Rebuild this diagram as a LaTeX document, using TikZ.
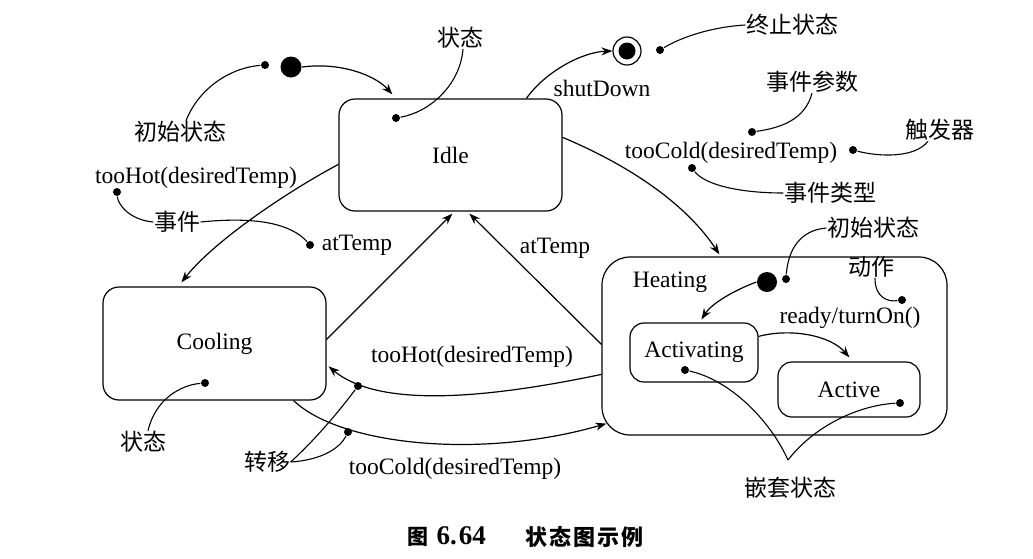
\documentclass[tikz,border=0pt]{standalone}
\usepackage{fontspec}
\setmainfont{Liberation Serif}
\newfontfamily\cjk{Noto Sans CJK SC}
\usetikzlibrary{arrows.meta}
\begin{document}
\begin{tikzpicture}[x=1pt,y=-1pt,line width=1.2pt,
  lbl/.style={font=\fontsize{23.5}{25}\selectfont, inner sep=0pt},
  zh/.style={font=\cjk\fontsize{23}{25}\selectfont, inner sep=0pt},
  dot/.style={circle, fill, inner sep=0pt, minimum size=8pt},
  bigdot/.style={circle, fill, inner sep=0pt, minimum size=21pt},
  statebox/.style={draw, rectangle, inner sep=0pt, font=\fontsize{23.5}{25}\selectfont},
  arr/.style={-{Stealth[length=11pt,width=8pt]}},
  note/.style={line width=1.1pt}]
\useasboundingbox (0,0) rectangle (1033,558);

% states
\node[statebox, rounded corners=16pt, minimum width=223pt, minimum height=112pt] (idle) at (450.5,155) {Idle};
\node[statebox, rounded corners=16pt, minimum width=223pt, minimum height=113pt] (cooling) at (214.5,343.5) {Cooling};
\node[statebox, rounded corners=28pt, minimum width=345pt, minimum height=178pt] (heating) at (774.5,346) {};
\node[lbl] (heatlbl) at (670,282) {Heating};
\node[statebox, rounded corners=14pt, minimum width=128pt, minimum height=59pt] (activating) at (694,352.5) {Activating};
\node[statebox, rounded corners=14pt, minimum width=142pt, minimum height=55pt] (active) at (849,389.5) {Active};

% initial / final states
\node[bigdot] (init1) at (291,67) {};
\node[bigdot, minimum size=20pt] (init2) at (767,282) {};
\node[circle, draw, inner sep=0pt, minimum size=28pt] (final) at (627,51) {};
\node[circle, fill, inner sep=0pt, minimum size=17pt] (finalin) at (final) {};

% annotation dots
\node[dot] (d1) at (265,65) {};
\node[dot] (d2) at (396,118) {};
\node[dot] (d3) at (660,50) {};
\node[dot] (d4) at (752,132) {};
\node[dot] (d5) at (853,150) {};
\node[dot] (d6) at (692,168) {};
\node[dot] (d7) at (786,279) {};
\node[dot] (d8) at (902,300) {};
\node[dot] (d9) at (685,370) {};
\node[dot] (d10) at (900,403) {};
\node[dot] (d11) at (117,192) {};
\node[dot] (d12) at (310,245) {};
\node[dot] (d13) at (358,386) {};
\node[dot] (d14) at (348,432) {};
\node[dot] (d15) at (205,383) {};

% labels
\node[zh] (linit1) at (180,132) {初始状态};
\node[zh] (lstate1) at (460,38) {状态};
\node[zh] (lfinal) at (792,25) {终止状态};
\node[lbl] (lshut) at (602,88) {shutDown};
\node[zh] (lparam) at (812,82) {事件参数};
\node[lbl] (lcoldtop) at (731,153) {tooCold(desiredTemp)};
\node[zh] (ltrig) at (940,130) {触发器};
\node[zh] (ltype) at (830,193) {事件类型};
\node[zh] (linit2) at (873,228) {初始状态};
\node[zh] (laction) at (871,267) {动作};
\node[lbl] (lready) at (850,318) {ready/turnOn()};
\node[zh] (lnest) at (790,488) {嵌套状态};
\node[lbl] (lhottop) at (196,178) {tooHot(desiredTemp)};
\node[zh] (levent) at (177,222) {事件};
\node[lbl] (latleft) at (357,245) {atTemp};
\node[lbl] (latright) at (555,248) {atTemp};
\node[lbl] (lhotmid) at (472,357) {tooHot(desiredTemp)};
\node[lbl] (lcoldbot) at (455,469) {tooCold(desiredTemp)};
\node[zh] (ltrans) at (267,462) {转移};
\node[zh] (lstate2) at (143,442) {状态};
\node[inner sep=0pt, anchor=west, font=\fontsize{27}{28}\selectfont\bfseries] (capnum) at (407,537)
  {{\cjk\bfseries\fontsize{21}{25}\selectfont 图}\kern8pt 6.\kern2pt 64};
\node[inner sep=0pt, anchor=west, font=\cjk\bfseries\fontsize{22}{25}\selectfont] (captext) at (525,537)
  {状\kern2pt 态\kern2pt 图\kern2pt 示\kern2pt 例};

% transitions
\draw[arr] (init1.east) .. controls (340,62) and (375,75) .. ([xshift=54pt,yshift=4pt]idle.north west);
\draw[arr] ([xshift=188pt]idle.north west) .. controls (545,72) and (582,52) .. (final.west);
\draw[arr] ([yshift=-39pt]idle.north east) .. controls (612,158) and (680,195) .. ([xshift=118pt,yshift=2pt]heating.north west);
\draw[arr] ([yshift=-66pt]idle.north west) .. controls (290,190) and (215,240) .. ([xshift=79pt,yshift=4pt]cooling.north west);
\draw[arr] ([yshift=-53pt]cooling.north east) -- ([xshift=114pt,yshift=-2pt]idle.south west);
\draw[arr] ([yshift=-88pt]heating.north west) -- ([xshift=131pt,yshift=-2pt]idle.south west);
\draw[arr] ([yshift=-118pt]heating.north west) .. controls (470,402) and (375,405) .. ([xshift=2pt,yshift=-80pt]cooling.north east);
\draw[arr] ([xshift=-33pt]cooling.south east) .. controls (340,445) and (480,460) .. ([xshift=5pt,yshift=12pt]heating.south west);
\draw[arr] (init2.west) .. controls (735,290) and (712,303) .. ([xshift=72pt,yshift=3pt]activating.north west);
\draw[arr] ([yshift=-14pt]activating.north east) .. controls (790,328) and (830,335) .. ([xshift=72pt,yshift=4pt]active.north west);

% annotation lines
\draw[note] ([xshift=6pt]linit1.north) .. controls (198,90) and (228,68) .. (d1);
\draw[note] ([xshift=3pt]lstate1.south) .. controls (460,85) and (430,112) .. (d2);
\draw[note] (d3) .. controls (680,38) and (710,27) .. (lfinal.west);
\draw[note] (lparam.south) .. controls (805,120) and (780,128) .. (d4);
\draw[note] (d5) .. controls (880,157) and (915,158) .. ([xshift=-12pt]ltrig.south);
\draw[note] (d6) .. controls (705,185) and (740,193) .. (ltype.west);
\draw[note] (linit2.west) .. controls (800,230) and (788,250) .. (d7);
\draw[note] ([xshift=4pt]laction.south) .. controls (875,298) and (888,302) .. (d8);
\coordinate (vtip) at (788,460);
\draw[note] (d9) .. controls (730,380) and (770,420) .. (vtip);
\draw[note] (vtip) .. controls (815,425) and (860,405) .. (d10);
\draw[note] (d11) .. controls (118,205) and (130,220) .. (levent.west);
\draw[note] (levent.east) .. controls (260,216) and (292,225) .. (d12);
\draw[note] (ltrans.east) .. controls (315,440) and (340,410) .. (d13);
\draw[note] (ltrans.east) .. controls (322,460) and (340,448) .. (d14);
\draw[note] ([xshift=5pt]lstate2.north) .. controls (155,400) and (180,385) .. (d15);
\end{tikzpicture}
\end{document}
